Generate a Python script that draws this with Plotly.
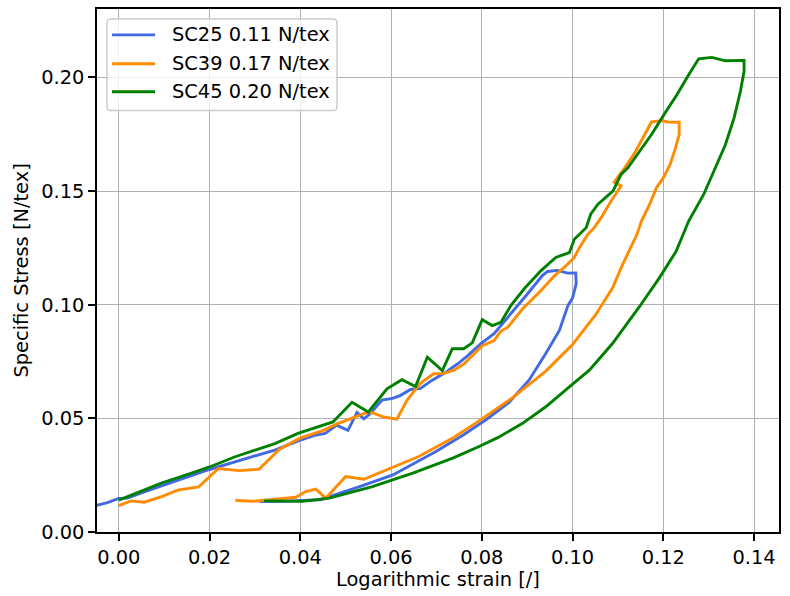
import plotly.graph_objects as go

# ---- data: logarithmic strain [/] and specific stress [N/tex] ----
labels = ["SC25 0.11 N/tex", "SC39 0.17 N/tex", "SC45 0.20 N/tex"]
colors = ["#4169E1", "#FF8C00", "#008000"]

sc25_strain = [-0.0050, -0.0025, 0.0000, 0.0019, 0.0056, 0.0130, 0.0200, 0.0278, 0.0344,
               0.0400, 0.0432, 0.0455, 0.0480, 0.0505, 0.0525, 0.0540, 0.0554, 0.0580,
               0.0603, 0.0620, 0.0643, 0.0665, 0.0690, 0.0716, 0.0747, 0.0769, 0.0798,
               0.0827, 0.0857, 0.0901, 0.0934, 0.0945, 0.0967, 0.0989, 0.1007,
               0.1008, 0.1000, 0.0990, 0.0971, 0.0941, 0.0904, 0.0860, 0.0810, 0.0760,
               0.0699, 0.0604, 0.0531, 0.0466, 0.0444, 0.0369, 0.0310]
sc25_stress = [0.0117, 0.0129, 0.0148, 0.0149, 0.0177, 0.0228, 0.0275, 0.0322, 0.0360,
               0.0404, 0.0425, 0.0434, 0.0470, 0.0447, 0.0526, 0.0498, 0.0520, 0.0580,
               0.0588, 0.0600, 0.0627, 0.0632, 0.0667, 0.0697, 0.0740, 0.0776, 0.0829,
               0.0873, 0.0943, 0.1048, 0.1129, 0.1146, 0.1151, 0.1139, 0.1140,
               0.1092, 0.1030, 0.0997, 0.0887, 0.0785, 0.0668, 0.0570, 0.0495, 0.0428,
               0.0354, 0.0251, 0.0200, 0.0156, 0.0142, 0.0135, 0.0134]

sc39_strain = [0.0000, 0.0027, 0.0056, 0.0093, 0.0130, 0.0176, 0.0219, 0.0265, 0.0309,
               0.0353, 0.0398, 0.0451, 0.0480, 0.0510, 0.0540, 0.0554, 0.0584, 0.0613,
               0.0635, 0.0665, 0.0694, 0.0716, 0.0738, 0.0761, 0.0783, 0.0801, 0.0827,
               0.0842, 0.0857, 0.0890, 0.0930, 0.0960, 0.0989, 0.1004, 0.1015, 0.1034,
               0.1048, 0.1063, 0.1085, 0.1107, 0.1092, 0.1115, 0.1137, 0.1159, 0.1174,
               0.1196, 0.1211, 0.1235,
               0.1235, 0.1227, 0.1215, 0.1200, 0.1185, 0.1170, 0.1152, 0.1142, 0.1110,
               0.1088, 0.1051, 0.1000, 0.0941, 0.0868, 0.0794, 0.0735, 0.0661, 0.0604,
               0.0540, 0.0500, 0.0456, 0.0434, 0.0412, 0.0390, 0.0332, 0.0295, 0.0257]
sc39_stress = [0.0116, 0.0137, 0.0131, 0.0155, 0.0184, 0.0198, 0.0279, 0.0270, 0.0276,
               0.0362, 0.0412, 0.0447, 0.0475, 0.0499, 0.0521, 0.0528, 0.0506, 0.0496,
               0.0579, 0.0655, 0.0696, 0.0698, 0.0711, 0.0740, 0.0784, 0.0820, 0.0842,
               0.0884, 0.0900, 0.0982, 0.1061, 0.1127, 0.1178, 0.1208, 0.1251, 0.1310,
               0.1339, 0.1383, 0.1456, 0.1522, 0.1540, 0.1602, 0.1668, 0.1749, 0.1804,
               0.1810, 0.1804, 0.1803,
               0.1749, 0.1690, 0.1617, 0.1558, 0.1515, 0.1442, 0.1368, 0.1310, 0.1175,
               0.1073, 0.0956, 0.0825, 0.0708, 0.0591, 0.0489, 0.0412, 0.0332, 0.0285,
               0.0232, 0.0244, 0.0149, 0.0189, 0.0178, 0.0153, 0.0142, 0.0135, 0.0139]

sc45_strain = [0.0000, 0.0034, 0.0094, 0.0167, 0.0200, 0.0255, 0.0344, 0.0395, 0.0437,
               0.0472, 0.0514, 0.0550, 0.0591, 0.0624, 0.0654, 0.0680, 0.0713, 0.0735,
               0.0760, 0.0779, 0.0801, 0.0823, 0.0842, 0.0864, 0.0893, 0.0930, 0.0963,
               0.0993, 0.1004, 0.1015, 0.1030, 0.1040, 0.1056, 0.1089, 0.1107, 0.1122,
               0.1148, 0.1174, 0.1204, 0.1230, 0.1256, 0.1278, 0.1307, 0.1337, 0.1378,
               0.1378, 0.1370, 0.1356, 0.1337, 0.1315, 0.1289, 0.1256, 0.1228, 0.1191,
               0.1147, 0.1088, 0.1037, 0.0993, 0.0941, 0.0890, 0.0835, 0.0794, 0.0736,
               0.0648, 0.0559, 0.0464, 0.0405, 0.0320]
sc45_stress = [0.0140, 0.0167, 0.0215, 0.0263, 0.0286, 0.0330, 0.0389, 0.0434, 0.0462,
               0.0484, 0.0571, 0.0528, 0.0630, 0.0670, 0.0640, 0.0769, 0.0710, 0.0806,
               0.0806, 0.0832, 0.0934, 0.0908, 0.0922, 0.0996, 0.1069, 0.1149, 0.1208,
               0.1229, 0.1288, 0.1310, 0.1339, 0.1398, 0.1442, 0.1500, 0.1573, 0.1602,
               0.1675, 0.1749, 0.1844, 0.1924, 0.2012, 0.2082, 0.2088, 0.2073, 0.2075,
               0.2026, 0.1939, 0.1822, 0.1705, 0.1602, 0.1485, 0.1368, 0.1234, 0.1117,
               0.0990, 0.0829, 0.0712, 0.0639, 0.0551, 0.0478, 0.0415, 0.0376, 0.0325,
               0.0259, 0.0200, 0.0149, 0.0135, 0.0137]

x_ticks = [0.00, 0.02, 0.04, 0.06, 0.08, 0.10, 0.12, 0.14]
y_ticks = [0.00, 0.05, 0.10, 0.15, 0.20]

# ---- figure geometry (pixels) ----
W, H = 790, 596
PL, PR, PT, PB = 97, 779, 7, 532
FONT = "DejaVu Sans"
FS = 19.4
LW = 2.9


def fx(px):
    return (px - PL) / (PR - PL)


def fy(py):
    return (PB - py) / (PB - PT)


fig = go.Figure()
series = [(sc25_strain, sc25_stress), (sc39_strain, sc39_stress), (sc45_strain, sc45_stress)]
for (xs, ys), name, col in zip(series, labels, colors):
    fig.add_trace(go.Scatter(x=xs, y=ys, mode="lines", name=name,
                             line=dict(color=col, width=LW), showlegend=False))

axis_common = dict(
    showgrid=True, gridcolor="#b0b0b0", gridwidth=1.3,
    showline=True, linecolor="black", linewidth=1.5, mirror=True,
    ticks="outside", ticklen=7, tickwidth=1.5, tickcolor="black",
    zeroline=False, tickfont=dict(family=FONT, size=FS, color="black"),
)
fig.update_xaxes(range=[-0.0048, 0.1455], tickvals=x_ticks,
                 ticktext=[f"{v:.2f}" for v in x_ticks], **axis_common)
fig.update_yaxes(range=[0, 0.2301], tickvals=y_ticks,
                 ticktext=[f"{v:.2f}" for v in y_ticks], **axis_common)

# axis titles
annotations = [
    dict(text="Logarithmic strain [/]", xref="paper", yref="paper",
         x=0.5, y=fy(580), xanchor="center", yanchor="middle", showarrow=False,
         font=dict(family=FONT, size=FS, color="black")),
    dict(text="Specific Stress [N/tex]", xref="paper", yref="paper",
         x=fx(21), y=0.5, xanchor="center", yanchor="middle", showarrow=False,
         textangle=-90, font=dict(family=FONT, size=FS, color="black")),
]

# legend box with rounded corners
bx0, bx1, by0, by1, rad = 107, 337, 17, 109, 4
path = (f"M {fx(bx0 + rad)},{fy(by0)} L {fx(bx1 - rad)},{fy(by0)} "
        f"Q {fx(bx1)},{fy(by0)} {fx(bx1)},{fy(by0 + rad)} "
        f"L {fx(bx1)},{fy(by1 - rad)} Q {fx(bx1)},{fy(by1)} {fx(bx1 - rad)},{fy(by1)} "
        f"L {fx(bx0 + rad)},{fy(by1)} Q {fx(bx0)},{fy(by1)} {fx(bx0)},{fy(by1 - rad)} "
        f"L {fx(bx0)},{fy(by0 + rad)} Q {fx(bx0)},{fy(by0)} {fx(bx0 + rad)},{fy(by0)} Z")
shapes = [dict(type="path", path=path, xref="paper", yref="paper",
               fillcolor="rgba(255,255,255,0.8)", line=dict(color="#cccccc", width=1.5),
               layer="above")]
row_y = [33, 62, 90]
for ry, name, col in zip(row_y, labels, colors):
    shapes.append(dict(type="line", xref="paper", yref="paper",
                       x0=fx(112), x1=fx(155), y0=fy(ry), y1=fy(ry),
                       line=dict(color=col, width=LW), layer="above"))
    annotations.append(dict(text=name, xref="paper", yref="paper", x=fx(170), y=fy(ry),
                            xanchor="left", yanchor="middle", showarrow=False,
                            font=dict(family=FONT, size=FS, color="black")))

fig.update_layout(
    width=W, height=H,
    margin=dict(l=PL, r=W - PR, t=PT, b=H - PB),
    paper_bgcolor="white", plot_bgcolor="white",
    showlegend=False, shapes=shapes, annotations=annotations,
    font=dict(family=FONT, size=FS, color="black"),
)

fig.write_html("out.html")
